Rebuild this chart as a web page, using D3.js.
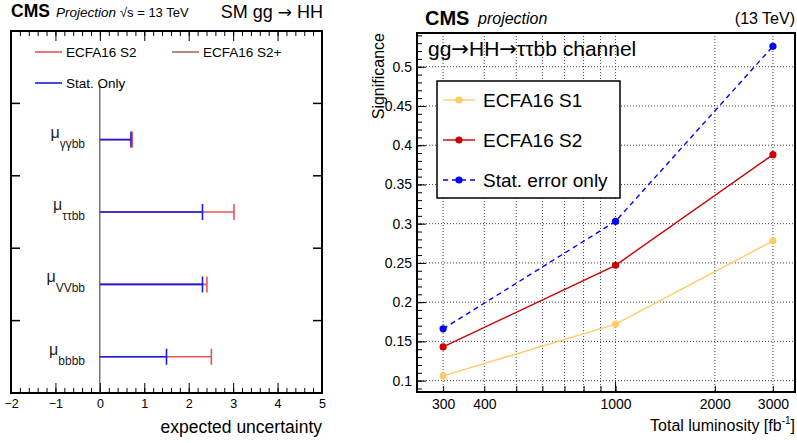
<!DOCTYPE html>
<html>
<head>
<meta charset="utf-8">
<script src="https://cdn.jsdelivr.net/npm/d3@7"></script>
<style>
  body { margin: 0; background: #fff; }
  svg { font-family: "Liberation Sans", Arial, Helvetica, sans-serif; }
  .arr { font-family: "DejaVu Sans", sans-serif; }
</style>
</head>
<body>
<svg id="chart" width="797" height="443"></svg>
<script>
// Left panel: expected uncertainty per channel (bottom to top)
const channels = ["bbbb", "VVbb", "ττbb", "γγbb"];
const uncS2 = [2.51, 2.41, 3.02, 0.73];
const uncStat = [1.50, 2.31, 2.31, 0.70];
const xTicksLeft = [-2, -1, 0, 1, 2, 3, 4, 5];

// Right panel: significance vs luminosity
const lumi = [300, 1000, 3000];
const sigS1 = [0.106, 0.172, 0.278];
const sigS2 = [0.143, 0.247, 0.388];
const sigStat = [0.166, 0.303, 0.526];
const lumiTickLabels = [300, 400, 1000, 2000, 3000];
const lumiGrid = [300, 400, 500, 600, 700, 800, 900, 1000, 2000, 3000];
const sigTicks = [0.1, 0.15, 0.2, 0.25, 0.3, 0.35, 0.4, 0.45, 0.5];

const svg = d3.select("#chart");

// ---------------- left panel ----------------
const L = { left: 11, right: 322, top: 31, bottom: 393 };
const xL = d3.scaleLinear().domain([-2, 5]).range([L.left, L.right]);
const yL = d3.scaleLinear().domain([0, 5]).range([L.bottom, L.top]);

const left = svg.append("g");

// header
const hL = left.append("text").attr("x", 11).attr("y", 17);
hL.append("tspan").attr("font-weight", "bold").attr("font-size", 17.5).text("CMS");
hL.append("tspan").attr("font-style", "italic").attr("font-size", 13.5).attr("dx", 6).text("Projection");
hL.append("tspan").attr("font-size", 13).attr("dx", 4).text("√s = 13 TeV");
const hR = left.append("text").attr("x", 323).attr("y", 18).attr("text-anchor", "end")
  .attr("font-size", 18);
hR.append("tspan").text("SM gg ");
hR.append("tspan").attr("class", "arr").attr("font-size", 17).text("→");
hR.append("tspan").text(" HH");

// x axis ticks (bottom, pointing up) and top (pointing down)
function leftXAxis(axisFn, y, labels) {
  left.append("g").attr("transform", `translate(0,${y})`)
    .call(axisFn(xL).tickValues(d3.range(-2, 5.001, 0.2)).tickSize(-5).tickFormat(""))
    .call(g => g.select(".domain").remove());
  const maj = left.append("g").attr("transform", `translate(0,${y})`)
    .call(axisFn(xL).tickValues(xTicksLeft).tickSize(-10).tickPadding(6)
      .tickFormat(labels ? d3.format("d") : ""));
  maj.select(".domain").remove();
  maj.selectAll("text").attr("font-size", 12.5).attr("font-family", null);
}
leftXAxis(d3.axisBottom, L.bottom, true);
leftXAxis(d3.axisTop, L.top, false);

// y ticks at band boundaries
[1, 2, 3, 4].forEach(v => {
  left.append("line").attr("x1", L.left).attr("x2", L.left + 9)
    .attr("y1", yL(v)).attr("y2", yL(v)).attr("stroke", "#000").attr("stroke-width", 1.5);
  left.append("line").attr("x1", L.right).attr("x2", L.right - 9)
    .attr("y1", yL(v)).attr("y2", yL(v)).attr("stroke", "#000").attr("stroke-width", 1.5);
});

// frame
left.append("rect").attr("x", L.left).attr("y", L.top)
  .attr("width", L.right - L.left).attr("height", L.bottom - L.top)
  .attr("fill", "none").attr("stroke", "#000").attr("stroke-width", 2);

// zero line
left.append("line").attr("x1", xL(0)).attr("x2", xL(0))
  .attr("y1", 86).attr("y2", L.bottom).attr("stroke", "#333").attr("stroke-width", 1);

// bars
const redC = "#e65555", blueC = "#1a1ae6", brownC = "#a86868";
function drawBars(vals, color) {
  vals.forEach((v, i) => {
    const y = yL(i + 0.5);
    left.append("line").attr("x1", xL(0)).attr("x2", xL(v)).attr("y1", y).attr("y2", y)
      .attr("stroke", color).attr("stroke-width", 1.6);
    left.append("line").attr("x1", xL(v)).attr("x2", xL(v)).attr("y1", y - 8).attr("y2", y + 8)
      .attr("stroke", color).attr("stroke-width", 1.6);
  });
}
drawBars(uncS2, redC);
drawBars(uncStat, blueC);

// channel labels
channels.forEach((c, i) => {
  const y = yL(i + 0.5);
  const t = left.append("text").attr("x", 85).attr("y", y - 2).attr("text-anchor", "end")
    .attr("fill", "#222");
  t.append("tspan").attr("font-size", 16).text("μ");
  t.append("tspan").attr("font-size", 12).attr("dy", 10).text(c);
});

// legend
const legL = [
  { label: "ECFA16 S2", color: redC, x: 35, y: 52 },
  { label: "ECFA16 S2+", color: brownC, x: 172, y: 52 },
  { label: "Stat. Only", color: blueC, x: 35, y: 83 }
];
legL.forEach(d => {
  left.append("line").attr("x1", d.x).attr("x2", d.x + 27).attr("y1", d.y).attr("y2", d.y)
    .attr("stroke", d.color).attr("stroke-width", 1.6);
  left.append("text").attr("x", d.x + 31).attr("y", d.y + 5).attr("font-size", 13.5).text(d.label);
});

left.append("text").attr("x", 322).attr("y", 433).attr("text-anchor", "end")
  .attr("font-size", 17.5).text("expected uncertainty");

// ---------------- right panel ----------------
const R = { left: 417, right: 795, top: 33, bottom: 392 };
const xR = d3.scaleLog().domain([250, 3500]).range([R.left, R.right]);
const yR = d3.scaleLinear().domain([0.0855, 0.543]).range([R.bottom, R.top]);

const right = svg.append("g");

// header
right.append("text").attr("x", 425).attr("y", 25).attr("font-weight", "bold")
  .attr("font-size", 20).text("CMS");
right.append("text").attr("x", 478).attr("y", 24).attr("font-style", "italic")
  .attr("font-size", 16).text("projection");
right.append("text").attr("x", 795).attr("y", 24).attr("text-anchor", "end")
  .attr("font-size", 16).text("(13 TeV)");

// grid
right.append("g").selectAll("line").data(lumiGrid).join("line")
  .attr("x1", d => xR(d)).attr("x2", d => xR(d)).attr("y1", R.top).attr("y2", R.bottom)
  .attr("stroke", "#444").attr("stroke-width", 1).attr("stroke-dasharray", "1,2");
right.append("g").selectAll("line").data(sigTicks).join("line")
  .attr("x1", R.left).attr("x2", R.right).attr("y1", d => yR(d)).attr("y2", d => yR(d))
  .attr("stroke", "#444").attr("stroke-width", 1).attr("stroke-dasharray", "1,2");

// y axis
right.append("g").attr("transform", `translate(${R.left},0)`)
  .call(d3.axisRight(yR).tickValues(d3.range(0.09, 0.5401, 0.01)).tickSize(5).tickFormat(""))
  .call(g => g.select(".domain").remove());
const yAx = right.append("g").attr("transform", `translate(${R.left},0)`)
  .call(d3.axisLeft(yR).tickValues(sigTicks).tickSize(-9).tickPadding(5).tickFormat(d3.format("~g")));
yAx.select(".domain").remove();
yAx.selectAll("text").attr("font-size", 14).attr("font-family", null);

// x axis
right.append("g").attr("transform", `translate(0,${R.bottom})`)
  .call(d3.axisBottom(xR).tickValues(lumiGrid).tickSize(-6).tickFormat(""))
  .call(g => g.select(".domain").remove());
const xAx = right.append("g").attr("transform", `translate(0,${R.bottom})`)
  .call(d3.axisBottom(xR).tickValues(lumiTickLabels).tickSize(0).tickPadding(7).tickFormat(d3.format("d")));
xAx.select(".domain").remove();
xAx.selectAll("text").attr("font-size", 14).attr("font-family", null);
right.append("line").attr("x1", xR(1000)).attr("x2", xR(1000))
  .attr("y1", R.bottom).attr("y2", R.bottom - 10).attr("stroke", "#000");

// frame
right.append("rect").attr("x", R.left).attr("y", R.top)
  .attr("width", R.right - R.left).attr("height", R.bottom - R.top)
  .attr("fill", "none").attr("stroke", "#000").attr("stroke-width", 2);

// axis titles
right.append("text").attr("transform", `translate(384,${R.top}) rotate(-90)`)
  .attr("text-anchor", "end").attr("font-size", 16).text("Significance");
const xt = right.append("text").attr("x", 795).attr("y", 431).attr("text-anchor", "end")
  .attr("font-size", 16);
xt.append("tspan").text("Total luminosity [fb");
xt.append("tspan").attr("font-size", 10).attr("dy", -7).text("-1");
xt.append("tspan").attr("dy", 7).text("]");

const ch = right.append("text").attr("x", 428).attr("y", 56).attr("font-size", 21);
ch.append("tspan").text("gg");
ch.append("tspan").attr("class", "arr").text("→");
ch.append("tspan").text("HH");
ch.append("tspan").attr("class", "arr").text("→");
ch.append("tspan").text("ττbb channel");

// series
const series = [
  { label: "ECFA16 S1", vals: sigS1, color: "#ffcc66", dash: null },
  { label: "ECFA16 S2", vals: sigS2, color: "#cc0000", dash: null },
  { label: "Stat. error only", vals: sigStat, color: "#0000ff", dash: "5,4" }
];
const line = d3.line().x(d => xR(d[0])).y(d => yR(d[1]));
series.forEach(s => {
  const pts = lumi.map((l, i) => [l, s.vals[i]]);
  right.append("path").attr("d", line(pts)).attr("fill", "none")
    .attr("stroke", s.color).attr("stroke-width", 1.4).attr("stroke-dasharray", s.dash);
  right.append("g").selectAll("circle").data(pts).join("circle")
    .attr("cx", d => xR(d[0])).attr("cy", d => yR(d[1])).attr("r", 3.6).attr("fill", s.color);
});

// legend
right.append("rect").attr("x", 437).attr("y", 81).attr("width", 183).attr("height", 117)
  .attr("fill", "#fff").attr("stroke", "#000").attr("stroke-width", 1.5);
series.forEach((s, i) => {
  const y = 100 + i * 40;
  right.append("line").attr("x1", 443).attr("x2", 475).attr("y1", y).attr("y2", y)
    .attr("stroke", s.color).attr("stroke-width", 1.4).attr("stroke-dasharray", s.dash);
  right.append("circle").attr("cx", 459).attr("cy", y).attr("r", 3.6).attr("fill", s.color);
  right.append("text").attr("x", 483).attr("y", y + 7).attr("font-size", 19).text(s.label);
});
</script>
</body>
</html>
